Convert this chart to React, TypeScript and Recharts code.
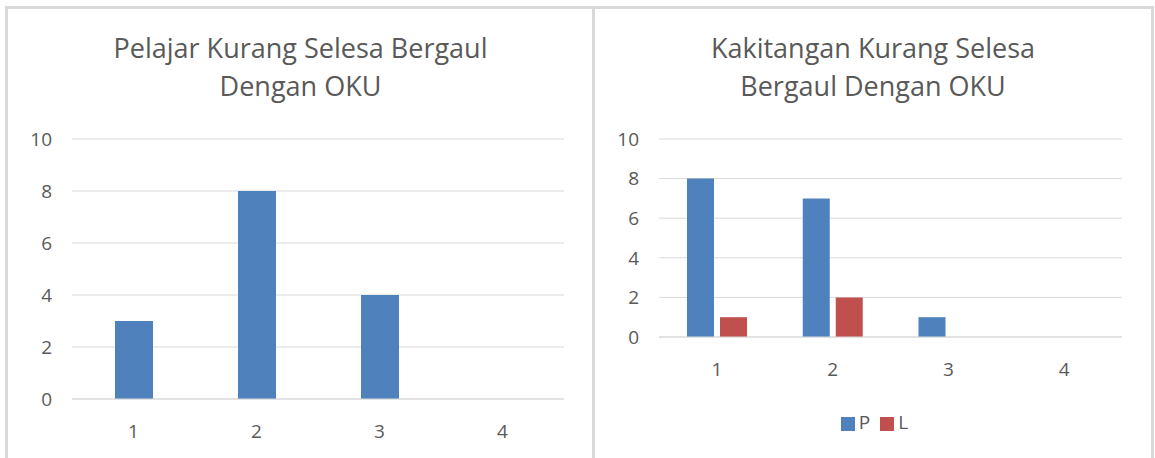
import React from 'react';
import { BarChart, Bar, XAxis, YAxis, CartesianGrid, Legend } from 'recharts';

const categories = ['1', '2', '3', '4'];
const pelajarValues = [3, 8, 4, 0];
const kakitanganP = [8, 7, 1, 0];
const kakitanganL = [1, 2, 0, 0];
const yTicks = [0, 2, 4, 6, 8, 10];

const leftData = categories.map((c, i) => ({ name: c, value: pelajarValues[i] }));
const rightData = categories.map((c, i) => ({ name: c, P: kakitanganP[i], L: kakitanganL[i] }));

const FONT = 'Open Sans, sans-serif';
const GRAY = '#595959';
const GRID = '#d9d9d9';

const tick = { fill: GRAY, fontSize: 19, fontFamily: FONT };

const panel: React.CSSProperties = {
  position: 'absolute',
  top: 6,
  height: 460,
  border: `3px solid ${GRID}`,
  boxSizing: 'border-box',
  background: '#fff',
};

const titleStyle: React.CSSProperties = {
  position: 'absolute',
  top: 20,
  left: 0,
  width: '100%',
  textAlign: 'center',
  fontFamily: FONT,
  fontSize: 27,
  lineHeight: '38px',
  color: GRAY,
};

const legendOrder = ['P', 'L'];

export default function App() {
  return (
    <div style={{ position: 'absolute', left: 0, top: 0, width: 1155, height: 458, background: '#fff', overflow: 'hidden' }}>
      <div style={{ ...panel, left: 5, width: 591 }}>
        <div style={titleStyle}>
          Pelajar Kurang Selesa Bergaul
          <br />
          Dengan OKU
        </div>
        <div style={{ position: 'absolute', left: -1, top: -2 }}>
          <BarChart width={586} height={451} data={leftData} margin={{ top: 132, right: 29, bottom: 29, left: 0 }}>
            <CartesianGrid vertical={false} stroke={GRID} />
            <XAxis dataKey="name" tick={tick} tickLine={false} axisLine={{ stroke: GRID }} tickMargin={20} height={30} />
            <YAxis domain={[0, 10]} ticks={yTicks} tick={tick} tickLine={false} axisLine={false} width={65} tickMargin={20} tickSize={0} />
            <Bar dataKey="value" fill="#4f81bd" barSize={38} isAnimationActive={false} />
          </BarChart>
        </div>
      </div>
      <div style={{ ...panel, left: 592, width: 562 }}>
        <div style={titleStyle}>
          Kakitangan Kurang Selesa
          <br />
          Bergaul Dengan OKU
        </div>
        <div style={{ position: 'absolute', left: 0, top: -2 }}>
          <BarChart width={556} height={451} data={rightData} margin={{ top: 132, right: 29, bottom: 23, left: 0 }} barGap={6}>
            <CartesianGrid vertical={false} stroke={GRID} />
            <XAxis dataKey="name" tick={tick} tickLine={false} axisLine={{ stroke: GRID }} tickMargin={20} height={72} />
            <YAxis domain={[0, 10]} ticks={yTicks} tick={tick} tickLine={false} axisLine={false} width={64} tickMargin={20} tickSize={0} />
            <Legend
              verticalAlign="bottom"
              iconType="square"
              iconSize={14}
              itemSorter={(item: any) => legendOrder.indexOf(item.value)}
              wrapperStyle={{ fontFamily: FONT, fontSize: 19, paddingLeft: 21 }}
              formatter={(v: string) => <span style={{ color: GRAY }}>{v}</span>}
            />
            <Bar dataKey="P" fill="#4f81bd" barSize={27} isAnimationActive={false} />
            <Bar dataKey="L" fill="#c0504d" barSize={27} isAnimationActive={false} />
          </BarChart>
        </div>
      </div>
    </div>
  );
}
